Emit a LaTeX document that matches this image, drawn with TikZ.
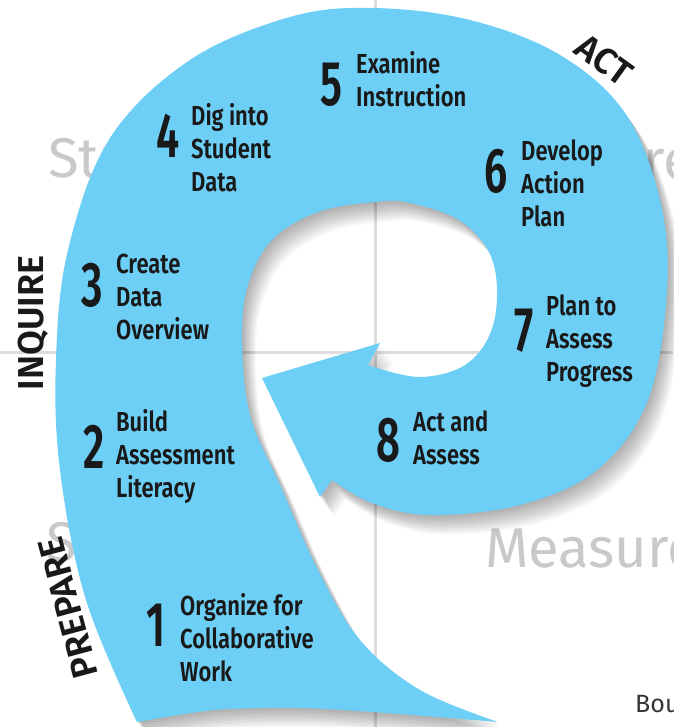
\documentclass[tikz,border=0pt]{standalone}
\usepackage{fontspec}
\setmainfont{Fira Sans}
\IfFontExistsTF{Fira Sans SemiBold}
  {\newfontfamily\stepfont{Fira Sans SemiBold}[FakeStretch=0.8]
   \newfontfamily\numfont{Fira Sans SemiBold}[FakeStretch=0.66]
   \newfontfamily\phasefont{Fira Sans SemiBold}}
  {\newfontfamily\stepfont{Fira Sans}[FakeStretch=0.8,FakeBold=1]
   \newfontfamily\numfont{Fira Sans}[FakeStretch=0.66,FakeBold=1]
   \newfontfamily\phasefont{Fira Sans}[FakeBold=1]}

\definecolor{spiralblue}{HTML}{6DCFF6}
\definecolor{quadgray}{HTML}{C9C9CB}
\definecolor{gridgray}{HTML}{DCDCDE}

% outline of the spiral arrow, in pixels of the reference
\newcommand{\spiralshape}{(137,722)
  -- plot[smooth, tension=0.6] coordinates {(137,722) (86,600) (60,470) (56,360)
     (68,250) (110,138) (190,60) (290,17) (373,8) (470,20) (560,55) (625,113)
     (660,200) (667,290) (648,400) (597,470) (520,505) (430,515) (372,503) (332,480)}
  -- (320,497) -- (262,378) -- (380,343) -- (368,365)
  -- plot[smooth, tension=0.6] coordinates {(368,365) (420,377) (468,363) (494,322)
     (493,262) (462,222) (410,203) (375,202) (318,212) (272,240) (248,285) (242,340)
     (250,415) (280,485) (318,570) (360,640) (420,690) (498,722)}
  -- plot[smooth] coordinates {(498,722) (386,713) (300,708) (215,710) (137,722)}
  -- cycle}

\begin{document}
\begin{tikzpicture}[x=1pt, y=-1pt,
  stepnum/.style={inner sep=0pt, anchor=east, text=black!90, font=\numfont\fontsize{63}{63}\selectfont},
  steptext/.style={inner sep=0pt, anchor=west, align=left, text=black!90, font=\stepfont\fontsize{27.5}{33}\selectfont},
  phase/.style={inner sep=0pt, text=black!90, font=\phasefont\fontsize{36}{36}\selectfont},
  quadrant/.style={inner sep=0pt, anchor=base west, text=quadgray, font=\fontsize{56}{56}\selectfont},
  grid/.style={gridgray, line width=3pt}]

\fill[white] (0,0) rectangle (673,727);
\useasboundingbox (0,0) rectangle (673,727);

% quadrant lines and words behind the spiral
\draw[grid] (375,0) -- (375,727);
\draw[grid] (0,352) -- (673,352);

\node[quadrant] (qtl) at (48,178) {Str};
\node[quadrant] (qtr) at (643,180) {re};
\node[quadrant] (qbl) at (46,561) {S};
\node[quadrant] (qbr) at (485,567) {Measure};
\node[inner sep=0pt, anchor=base west, text=black!80, font=\fontsize{25}{25}\selectfont] (credit) at (635,712) {Bou};

% soft shadow, then the spiral
\foreach \k in {1,...,14}
  \fill[black, opacity=0.025, shift={(1.0*\k,1.4*\k)}] \spiralshape;
\fill[spiralblue] \spiralshape;

% phases
\node[phase, rotate=105] (prepare) at (68,608) {PREPARE};
\node[phase, rotate=90] (inquire) at (33,323) {INQUIRE};
\node[phase, rotate=-36] (act) at (604,60) {ACT};

% steps
\node[stepnum] (n1) at (166,625) {1};
\node[steptext] (t1) at (180,638) {Organize for\\Collaborative\\Work};

\node[stepnum] (n2) at (105,447) {2};
\node[steptext] (t2) at (116,456) {Build\\Assessment\\Literacy};

\node[stepnum] (n3) at (103,285) {3};
\node[steptext] (t3) at (116,297) {Create\\Data\\Overview};

\node[stepnum] (n4) at (180,136) {4};
\node[steptext] (t4) at (191,148) {Dig into\\Student\\Data};

\node[stepnum] (n5) at (343,85) {5};
\node[steptext] (t5) at (356,79) {Examine\\Instruction};

\node[stepnum] (n6) at (508,171) {6};
\node[steptext] (t6) at (521,183) {Develop\\Action\\Plan};

\node[stepnum] (n7) at (534,331) {7};
\node[steptext] (t7) at (546,341) {Plan to\\Assess\\Progress};

\node[stepnum] (n8) at (401,440) {8};
\node[steptext] (t8) at (413,438) {Act and\\Assess};

\end{tikzpicture}
\end{document}
